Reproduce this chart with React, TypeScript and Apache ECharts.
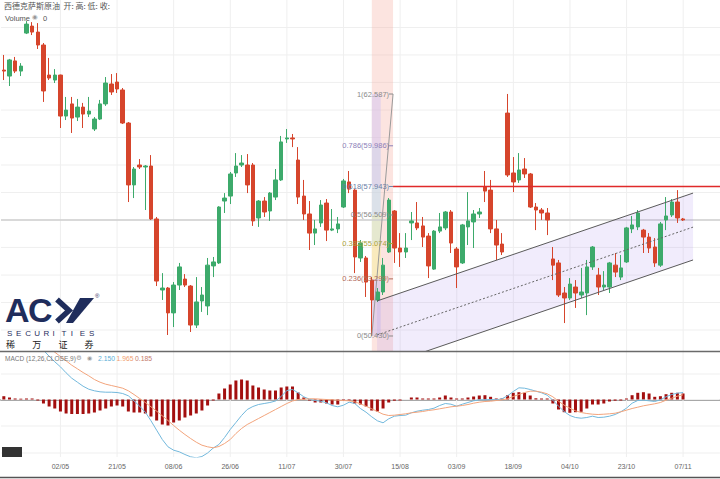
import React, { useEffect, useRef } from "react";
import * as echarts from "echarts";

// ---------- data ----------
const TOTAL_SLOTS = 127;
const tickIndices = [10, 20, 30, 40, 50, 60, 70, 80, 90, 100, 110, 120];
const tickLabels = ["02/05", "21/05", "08/06", "26/06", "11/07", "30/07", "15/08", "03/09", "18/09", "04/10", "23/10", "07/11"];

const opens = [
  63.79, 63.49, 64.25, 63.74, 65.65, 66.0, 65.7, 65.05, 63.54, 63.29,
  63.54, 61.48, 62.09, 61.43, 61.93, 61.58, 60.83, 61.33, 62.09, 63.09,
  63.19, 62.79, 61.13, 58.02, 59.02, 58.92, 58.97, 56.31, 52.74, 52.84,
  51.59, 52.99, 53.29, 52.94, 50.98, 52.19, 51.94, 53.95, 54.1, 57.21,
  57.46, 58.62, 59.02, 59.02, 59.02, 56.36, 57.21, 56.71, 57.41, 58.27,
  60.33, 60.38, 59.27, 57.46, 56.56, 55.6, 56.11, 57.11, 55.75, 55.81,
  56.91, 58.17, 57.76, 54.35, 54.35, 53.24, 52.24, 52.64, 54.65, 56.71,
  54.85, 54.65, 56.11, 56.11, 55.96, 55.45, 53.79, 55.7, 55.86, 56.66,
  54.8, 54.1, 55.91, 56.16, 56.56, 57.91, 57.76, 55.81, 55.05, 61.63,
  58.62, 58.27, 58.82, 58.57, 56.91, 56.76, 56.61, 54.3, 54.1, 52.59,
  52.34, 52.89, 52.49, 52.59, 53.9, 53.49, 52.89, 52.89, 53.99, 53.39,
  54.15, 55.81, 55.91, 55.75, 55.4, 54.9, 53.99, 56.26, 56.51, 57.16,
  56.31,
];
const closes = [
  63.74, 64.3, 63.74, 63.99, 66.1, 65.7, 65.05, 62.74, 63.39, 63.54,
  61.48, 61.78, 61.38, 61.93, 61.58, 61.73, 61.33, 62.09, 63.14, 62.69,
  62.84, 61.13, 58.02, 58.82, 58.92, 58.97, 56.31, 53.19, 52.84, 51.59,
  52.99, 53.9, 52.99, 50.98, 52.14, 52.49, 53.99, 54.15, 56.91, 57.36,
  58.57, 58.97, 59.12, 58.02, 56.21, 57.21, 56.66, 57.61, 58.27, 60.18,
  60.38, 60.33, 57.41, 56.56, 55.6, 55.81, 57.01, 55.75, 55.81, 56.06,
  58.22, 57.81, 54.4, 55.1, 53.14, 52.24, 52.64, 53.99, 57.26, 54.85,
  54.65, 54.85, 56.21, 55.86, 55.4, 53.95, 55.7, 55.91, 56.66, 55.1,
  53.9, 56.01, 56.21, 56.56, 56.66, 57.71, 55.81, 55.0, 54.65, 58.52,
  58.17, 58.77, 58.57, 56.91, 56.76, 56.61, 56.26, 53.99, 52.49, 52.34,
  53.04, 52.59, 52.64, 53.9, 54.9, 52.89, 52.99, 54.1, 53.64, 53.85,
  55.86, 56.01, 56.61, 55.4, 54.85, 54.1, 56.06, 56.46, 57.16, 56.36,
  56.26,
];
const highs = [
  64.55, 64.35, 64.45, 64.14, 66.25, 66.2, 66.15, 65.15, 64.4, 63.84,
  63.56, 62.44, 62.44, 62.34, 62.14, 62.44, 61.43, 62.29, 63.44, 63.59,
  63.64, 62.89, 61.18, 58.92, 59.32, 59.02, 59.52, 56.41, 53.59, 52.89,
  53.14, 54.1, 53.54, 52.99, 53.39, 52.89, 54.35, 54.4, 56.95, 57.61,
  58.67, 59.62, 59.52, 59.57, 59.12, 57.26, 57.41, 57.66, 58.82, 60.48,
  60.83, 60.58, 59.92, 58.27, 57.21, 56.26, 57.26, 57.31, 56.81, 56.41,
  58.32, 58.72, 57.81, 55.25, 54.45, 53.39, 52.84, 54.35, 57.36, 56.76,
  55.6, 55.6, 56.66, 57.16, 56.41, 55.6, 55.75, 56.61, 56.71, 56.76,
  54.9, 56.06, 57.66, 56.76, 56.86, 58.72, 58.27, 56.26, 55.6, 62.59,
  59.42, 59.62, 59.37, 58.62, 57.11, 56.86, 56.86, 54.9, 54.25, 52.89,
  53.34, 53.24, 53.85, 54.25, 54.95, 53.85, 53.69, 54.15, 54.6, 54.5,
  55.91, 56.46, 56.76, 55.81, 55.6, 55.35, 56.16, 57.41, 57.31, 57.76,
  56.36,
];
const lows = [
  63.29, 62.99, 63.64, 63.49, 65.6, 65.55, 64.85, 62.19, 63.29, 63.14,
  60.88, 61.28, 60.63, 61.23, 60.88, 61.43, 60.73, 61.28, 61.99, 62.54,
  62.64, 61.08, 57.16, 57.36, 58.82, 56.76, 56.26, 52.94, 52.24, 50.48,
  50.88, 52.74, 52.89, 50.63, 50.83, 51.64, 51.48, 53.39, 54.05, 56.61,
  57.06, 58.42, 58.92, 57.61, 55.96, 55.91, 56.41, 56.21, 57.26, 58.22,
  60.13, 59.92, 57.06, 56.26, 54.75, 55.0, 55.91, 55.2, 55.7, 55.6,
  56.86, 57.61, 53.59, 54.15, 52.39, 50.43, 52.14, 52.49, 54.6, 54.1,
  53.9, 54.35, 55.25, 55.75, 54.9, 53.34, 53.75, 55.6, 55.75, 54.6,
  52.84, 54.05, 55.0, 54.85, 56.36, 57.16, 55.6, 54.25, 54.5, 58.42,
  57.66, 58.12, 58.37, 56.86, 55.75, 56.26, 55.5, 53.24, 52.39, 51.08,
  52.24, 51.84, 52.34, 51.48, 53.75, 52.49, 52.74, 52.59, 53.39, 53.24,
  54.1, 55.6, 55.75, 54.6, 54.6, 53.9, 53.9, 55.75, 56.41, 56.11,
  56.21,
];

const macdLine = [
  9.0, 8.5, 8.0, 7.4, 6.8, 6.2, 5.6, 4.93, 4.33, 3.77,
  3.27, 2.67, 2.13, 1.73, 1.33, 1.03, 0.87, 0.77, 0.73, 0.73,
  0.7, 0.6, 0.37, -0.13, -0.67, -1.27, -2.13, -3.07, -4.0, -4.73,
  -5.07, -5.23, -5.5, -5.73, -5.83, -5.7, -5.35, -4.85, -4.5, -3.8,
  -3.0, -2.3, -1.6, -1.0, -0.7, -0.5, -0.4, -0.3, -0.15, 0.3,
  0.9, 1.0, 0.67, 0.27, 0.03, -0.1, -0.17, -0.33, -0.6, -0.73,
  -0.57, -0.27, -0.4, -0.9, -1.27, -1.73, -2.13, -2.33, -1.93, -1.67,
  -1.6, -1.57, -1.33, -1.17, -1.07, -1.0, -0.87, -0.6, -0.4, -0.47,
  -0.67, -0.47, -0.3, -0.13, -0.03, -0.03, 0, -0.03, 0.07, 0.37,
  0.8, 1.17, 1.13, 1.0, 0.83, 0.67, 0.43, -0.07, -0.67, -1.2,
  -1.6, -1.8, -1.87, -1.8, -1.67, -1.8, -1.77, -1.67, -1.5, -1.23,
  -0.87, -0.37, -0.1, -0.07, -0.13, -0.2, -0.03, 0.27, 0.5, 0.63,
  0.7,
];
const signalLine = [
  8.6, 8.3, 7.9, 7.5, 7.0, 6.6, 6.2, 5.67, 5.2, 4.73,
  4.3, 3.87, 3.43, 3.07, 2.7, 2.37, 2.0, 1.73, 1.53, 1.4,
  1.27, 1.13, 0.87, 0.5, 0.1, -0.3, -0.73, -1.17, -1.63, -2.1,
  -2.6, -3.07, -3.5, -3.9, -4.27, -4.57, -4.73, -4.83, -4.7, -4.4,
  -4.0, -3.4, -2.9, -2.5, -2.2, -1.9, -1.6, -1.3, -1.0, -0.7,
  -0.4, -0.15, 0.0, 0.03, 0.07, 0.07, 0.03, 0, -0.03, -0.07,
  -0.1, -0.13, -0.23, -0.43, -0.67, -0.93, -1.2, -1.47, -1.6, -1.57,
  -1.5, -1.43, -1.33, -1.27, -1.2, -1.1, -1.03, -0.93, -0.83, -0.73,
  -0.67, -0.6, -0.5, -0.37, -0.27, -0.2, -0.17, -0.1, -0.03, 0.07,
  0.3, 0.5, 0.7, 0.83, 0.83, 0.73, 0.57, 0.27, -0.17, -0.57,
  -0.87, -1.13, -1.3, -1.4, -1.47, -1.5, -1.47, -1.43, -1.37, -1.23,
  -1.07, -0.9, -0.77, -0.63, -0.53, -0.43, -0.3, -0.07, 0.13, 0.33,
  0.47,
];
const histogram = [
  0.33, 0.2, 0.1, 0.08, 0.1, 0.1, -0.1, -0.4, -0.7, -0.9,
  -1.2, -1.4, -1.45, -1.45, -1.45, -1.4, -1.3, -1.1, -0.9, -0.7,
  -0.6, -0.7, -1.2, -1.3, -1.3, -1.4, -1.7, -2.1, -2.5, -2.6,
  -2.3, -2.1, -1.8, -1.6, -1.4, -1.1, -0.6, -0.1, 0.6, 1.1,
  1.5, 1.9, 2.0, 1.9, 1.4, 1.2, 1.0, 0.9, 0.9, 1.2,
  1.3, 1.3, 0.7, 0.2, -0.1, -0.3, -0.3, -0.4, -0.5, -0.5,
  -0.12, -0.1, -0.4, -0.5, -0.7, -1.1, -1.2, -0.9, -0.3, -0.12,
  -0.1, 0, 0.2, 0.2, 0.1, 0.1, 0.1, 0.2, 0.4, 0.2,
  0.1, 0.1, 0.2, 0.3, 0.4, 0.43, 0.27, 0.1, 0.1, 0.43,
  0.67, 0.73, 0.67, 0.4, 0.12, 0.1, 0.1, -0.4, -1.0, -1.27,
  -1.33, -1.27, -1.23, -0.9, -0.5, -0.5, -0.4, -0.2, -0.12, -0.1,
  0.1, 0.43, 0.67, 0.73, 0.6, 0.27, 0.33, 0.53, 0.67, 0.67,
  0.6,
];

// annotations (data coordinates)
const fibStartIndex = 65;
const fibEndIndex = 68.75;
const fibLevelLabels = ["0", "0.236", "0.382", "0.5", "0.618", "0.786", "1"];
const fibPrices = [50.43, 53.299, 55.074, 56.509, 57.943, 59.986, 62.587];
const fibLabelColors = ["#8a8a8a", "#b06a5a", "#a8a23c", "#8a8a8a", "#6a7ea6", "#8c80b8", "#8a8a8a"];
const fibZoneColors = [
  "rgba(200,185,238,0.45)",
  "rgba(246,238,160,0.55)",
  "rgba(205,236,190,0.5)",
  "rgba(185,222,242,0.5)",
  "rgba(190,200,242,0.5)",
  "rgba(210,196,242,0.5)",
];
const resistancePrice = 57.943;
const lastPrice = 56.26;
const channelStart = 65.92;
const channelEnd = 121.74;
const channelUpper = [52.19, 57.61];
const channelMiddle = [50.48, 55.9];
const channelLower = [48.82, 54.25];

const mainGridPrices = [65.93, 64.55, 63.17, 61.78, 60.4, 59.02, 57.64, 56.26, 54.88, 53.49, 52.11, 50.73];
const macdGridValues = [2.55, 0, -2.65, -5.35];

const PRICE_MIN = 49.676;
const PRICE_MAX = 67.311;
const MACD_MIN = -5.75;
const MACD_MAX = 4.75;

const FONT = "Liberation Sans, Arial, sans-serif";
const CJK = "Noto Sans CJK SC, sans-serif";
const UP = "#3daa6b";
const DOWN = "#d6452c";
const NAVY = "#1f2d5c";

const tstyle = (extra: any) => ({
  align: "left",
  textAlign: "left",
  verticalAlign: "top",
  textVerticalAlign: "top",
  fontFamily: FONT,
  ...extra,
});

const txt = (x: number, y: number, text: string, fill: string, fontSize: number, extra: any = {}) => ({
  type: "text",
  x,
  y,
  silent: true,
  z: 100,
  style: tstyle({ text, fill, fontSize, ...extra }),
});

function buildOption() {
  const categories = Array.from({ length: TOTAL_SLOTS }, (_, i) => {
    const k = tickIndices.indexOf(i);
    return k >= 0 ? tickLabels[k] : "";
  });
  const candleData = opens.map((o, i) => [o, closes[i], lows[i], highs[i]]);

  const mainBackground = (params: any, api: any) => {
    if (params.dataIndex !== 0) return null;
    const cs = params.coordSys;
    const left = cs.x, right = cs.x + cs.width, top = cs.y, bottom = cs.y + cs.height;
    const px = (v: number) => api.coord([v, PRICE_MIN])[0];
    const py = (p: number) => api.coord([0, p])[1];
    const children: any[] = [];
    mainGridPrices.forEach((p) =>
      children.push({ type: "line", shape: { x1: left, y1: py(p), x2: right, y2: py(p) }, style: { stroke: "#efefef", lineWidth: 1 } })
    );
    tickIndices.forEach((i) =>
      children.push({ type: "line", shape: { x1: px(i), y1: top, x2: px(i), y2: bottom }, style: { stroke: "#efefef", lineWidth: 1 } })
    );
    const bx1 = px(fibStartIndex), bx2 = px(fibEndIndex);
    children.push({ type: "rect", shape: { x: bx1, y: top, width: bx2 - bx1, height: bottom - top }, style: { fill: "rgba(245,172,160,0.32)" } });
    for (let k = 0; k < fibPrices.length - 1; k++) {
      const y1 = py(fibPrices[k]), y2 = py(fibPrices[k + 1]);
      children.push({
        type: "rect",
        shape: { x: bx1, y: Math.min(y1, y2), width: (bx2 - bx1) * 0.42, height: Math.abs(y1 - y2) },
        style: { fill: fibZoneColors[k] },
      });
    }
    children.push({ type: "line", shape: { x1: left, y1: py(lastPrice), x2: right, y2: py(lastPrice) }, style: { stroke: "#cfcfcf", lineWidth: 1.6 } });
    const cx1 = px(channelStart), cx2 = px(channelEnd);
    children.push({
      type: "polygon",
      shape: { points: [[cx1, py(channelUpper[0])], [cx2, py(channelUpper[1])], [cx2, py(channelLower[1])], [cx1, py(channelLower[0])]] },
      style: { fill: "rgba(172,142,236,0.17)" },
    });
    return { type: "group", children };
  };

  const mainForeground = (params: any, api: any) => {
    if (params.dataIndex !== 0) return null;
    const cs = params.coordSys;
    const right = cs.x + cs.width;
    const px = (v: number) => api.coord([v, PRICE_MIN])[0];
    const py = (p: number) => api.coord([0, p])[1];
    const children: any[] = [];
    const cx1 = px(channelStart), cx2 = px(channelEnd);
    children.push({ type: "line", shape: { x1: cx1, y1: py(channelUpper[0]), x2: cx2, y2: py(channelUpper[1]) }, style: { stroke: "#5a5a5a", lineWidth: 1 } });
    children.push({ type: "line", shape: { x1: cx1, y1: py(channelLower[0]), x2: cx2, y2: py(channelLower[1]) }, style: { stroke: "#5a5a5a", lineWidth: 1 } });
    children.push({ type: "line", shape: { x1: cx1, y1: py(channelMiddle[0]), x2: cx2, y2: py(channelMiddle[1]) }, style: { stroke: "#666", lineWidth: 1, lineDash: [2, 2] } });
    const bx1 = px(fibStartIndex), bx2 = px(fibEndIndex);
    children.push({ type: "line", shape: { x1: bx1, y1: py(fibPrices[0]), x2: bx2, y2: py(fibPrices[fibPrices.length - 1]) }, style: { stroke: "#9a9a9a", lineWidth: 1 } });
    children.push({ type: "line", shape: { x1: bx2, y1: py(resistancePrice), x2: right, y2: py(resistancePrice) }, style: { stroke: "#e02a2a", lineWidth: 1.5 } });
    fibPrices.forEach((p, k) => {
      const y = py(p);
      children.push({ type: "line", shape: { x1: bx2 - 4, y1: y, x2: bx2, y2: y }, style: { stroke: fibLabelColors[k], lineWidth: 1 } });
      children.push({
        type: "text",
        x: bx2 - 4,
        y,
        style: {
          text: `${fibLevelLabels[k]}(${p.toFixed(3)})`,
          fill: fibLabelColors[k],
          fontSize: 7.5,
          fontFamily: FONT,
          align: "right",
          textAlign: "right",
          verticalAlign: "middle",
          textVerticalAlign: "middle",
        },
      });
    });
    return { type: "group", children };
  };

  const macdBackground = (params: any, api: any) => {
    if (params.dataIndex !== 0) return null;
    const cs = params.coordSys;
    const left = cs.x, right = cs.x + cs.width, top = cs.y, bottom = cs.y + cs.height;
    const children: any[] = [];
    macdGridValues.forEach((v) => {
      const y = api.coord([0, v])[1];
      children.push({ type: "line", shape: { x1: left, y1: y, x2: right, y2: y }, style: { stroke: "#efefef", lineWidth: 1 } });
    });
    tickIndices.forEach((i) => {
      const x = api.coord([i, 0])[0];
      children.push({ type: "line", shape: { x1: x, y1: top, x2: x, y2: bottom }, style: { stroke: "#efefef", lineWidth: 1 } });
    });
    return { type: "group", children };
  };

  const securities = "SECURITIES".split("").map((ch, k) => txt(7 + k * 9.1, 329.5, ch, NAVY, 8));
  const cjkLogo = ["稀", "万", "证", "券"].map((ch, k) => txt(6 + k * 26.2, 339.5, ch, "#222", 9, { fontFamily: CJK }));

  const graphic: any[] = [
    txt(4, 1.5, "西德克萨斯原油  开: 高: 低: 收:", "#555", 8, { fontFamily: CJK }),
    txt(5, 14, "Volume", "#555", 7.5),
    txt(32, 13.5, "◉", "#999", 6.5, { fontFamily: "DejaVu Sans" }),
    txt(43, 14, "0", "#555", 7.5),
    txt(5, 354.5, "MACD (12,26,CLOSE,9)", "#777", 6.5),
    txt(76, 354, "⚙", "#999", 6.5, { fontFamily: "DejaVu Sans" }),
    txt(87, 354, "◉", "#999", 6, { fontFamily: "DejaVu Sans" }),
    txt(98, 354.5, "2.150", "#5aaed6", 6.8),
    txt(116.5, 354.5, "1.965", "#f0a070", 6.8),
    txt(135, 354.5, "0.185", "#c47c6c", 6.8),
    { type: "line", silent: true, z: 100, shape: { x1: 0, y1: 351.5, x2: 720, y2: 351.5 }, style: { stroke: "#6a6a6a", lineWidth: 1.5 } },
    { type: "line", silent: true, z: 100, shape: { x1: 0, y1: 477.5, x2: 720, y2: 477.5 }, style: { stroke: "#555", lineWidth: 1.5 } },
    { type: "rect", silent: true, z: 100, shape: { x: 2, y: 447, width: 20, height: 10 }, style: { fill: "#333" } },
    // ACY logo
    txt(5, 293, "A", NAVY, 34, { fontWeight: "bold" }),
    txt(28, 293, "C", NAVY, 34, { fontWeight: "bold" }),
    { type: "polyline", silent: true, z: 100, shape: { points: [[57, 299.5], [69, 310.5], [57, 321.5]] }, style: { stroke: NAVY, lineWidth: 5.5, fill: null } },
    { type: "polygon", silent: true, z: 100, shape: { points: [[80, 298], [94, 298], [73, 323], [66, 323]] }, style: { fill: NAVY } },
    txt(95, 293, "®", NAVY, 6),
    ...securities,
    ...cjkLogo,
  ];

  return {
    animation: false,
    backgroundColor: "#ffffff",
    grid: [
      { left: 1, right: 0, top: 0, height: 351 },
      { left: 1, right: 0, top: 352, height: 105 },
    ],
    xAxis: [
      { type: "category", gridIndex: 0, data: categories, boundaryGap: true, axisLine: { show: false }, axisTick: { show: false }, axisLabel: { show: false }, splitLine: { show: false } },
      { type: "value", gridIndex: 0, min: -0.5, max: TOTAL_SLOTS - 0.5, show: false, splitLine: { show: false } },
      {
        type: "category",
        gridIndex: 1,
        data: categories,
        boundaryGap: true,
        axisLine: { show: true, lineStyle: { color: "#a8a8a8", width: 2 } },
        axisTick: { show: false },
        axisLabel: { show: true, interval: 0, fontSize: 7, color: "#666", margin: 6, fontFamily: FONT },
        splitLine: { show: false },
      },
      { type: "value", gridIndex: 1, min: -0.5, max: TOTAL_SLOTS - 0.5, show: false, splitLine: { show: false } },
    ],
    yAxis: [
      { type: "value", gridIndex: 0, min: PRICE_MIN, max: PRICE_MAX, show: false, splitLine: { show: false } },
      { type: "value", gridIndex: 1, min: MACD_MIN, max: MACD_MAX, show: false, splitLine: { show: false } },
    ],
    series: [
      { type: "custom", xAxisIndex: 1, yAxisIndex: 0, data: [[0, 55]], renderItem: mainBackground, clip: true, silent: true, z: 1 },
      {
        type: "candlestick",
        xAxisIndex: 0,
        yAxisIndex: 0,
        data: candleData,
        barWidth: 4,
        z: 2,
        itemStyle: { color: UP, color0: DOWN, borderColor: UP, borderColor0: DOWN, borderWidth: 1 },
      },
      { type: "custom", xAxisIndex: 1, yAxisIndex: 0, data: [[0, 55]], renderItem: mainForeground, clip: true, silent: true, z: 3 },
      { type: "custom", xAxisIndex: 3, yAxisIndex: 1, data: [[0, 0]], renderItem: macdBackground, clip: true, silent: true, z: 1 },
      { type: "bar", xAxisIndex: 2, yAxisIndex: 1, data: histogram, barWidth: 3, itemStyle: { color: "#a30f0f" }, z: 2 },
      { type: "line", xAxisIndex: 2, yAxisIndex: 1, data: macdLine, symbol: "none", lineStyle: { color: "#72b8dc", width: 1 }, z: 3 },
      { type: "line", xAxisIndex: 2, yAxisIndex: 1, data: signalLine, symbol: "none", lineStyle: { color: "#f2a47c", width: 1 }, z: 3 },
    ],
    graphic,
  };
}

export default function App() {
  const ref = useRef<HTMLDivElement>(null);
  useEffect(() => {
    if (!ref.current) return;
    const chart = echarts.init(ref.current, undefined, { renderer: "svg" });
    chart.setOption(buildOption() as any);
    return () => chart.dispose();
  }, []);
  return <div ref={ref} style={{ position: "fixed", left: 0, top: 0, width: 720, height: 479, background: "#fff" }} />;
}
